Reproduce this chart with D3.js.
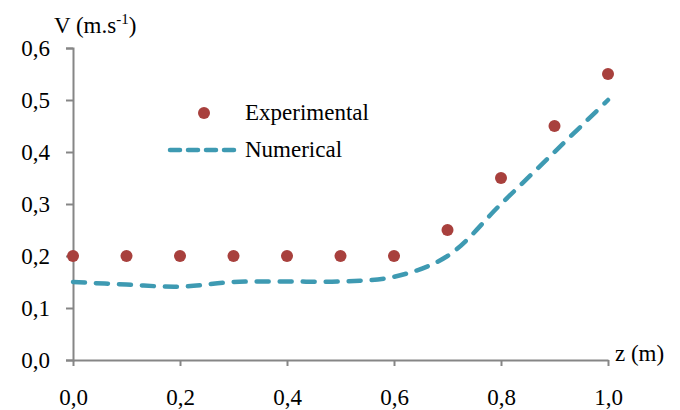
<!DOCTYPE html>
<html>
<head>
<meta charset="utf-8">
<script src="https://cdn.jsdelivr.net/npm/d3@7"></script>
<style>
  body { margin: 0; background: #fff; }
  svg text { font-family: "Liberation Serif", "Times New Roman", Times, "DejaVu Serif", serif !important; fill: #000; }
</style>
</head>
<body>
<div id="chart"></div>
<script>
// z positions and measured / computed velocity
const zValues = [0, 0.1, 0.2, 0.3, 0.4, 0.5, 0.6, 0.7, 0.8, 0.9, 1.0];
const experimental = [0.2, 0.2, 0.2, 0.2, 0.2, 0.2, 0.2, 0.25, 0.35, 0.45, 0.55];
const numerical = [0.15, 0.145, 0.141, 0.15, 0.151, 0.151, 0.16, 0.2, 0.3, 0.4, 0.5];
const xTicks = [0, 0.2, 0.4, 0.6, 0.8, 1.0];
const yTicks = [0, 0.1, 0.2, 0.3, 0.4, 0.5, 0.6];

const width = 680, height = 410;
const axisColor = "#868686";
const expColor = "#A8403D";
const numColor = "#3E9AB2";
const serif = '"Liberation Serif", "Times New Roman", Times, serif';

const x = d3.scaleLinear().domain([0, 1]).range([73, 608]);
const y = d3.scaleLinear().domain([0, 0.6]).range([360, 48]);
const fmt = d => d3.format(".1f")(d).replace(".", ",");

const svg = d3.select("#chart").append("svg")
    .attr("width", width)
    .attr("height", height)
    .attr("font-family", serif);

// y axis
const yAxis = svg.append("g")
    .attr("transform", "translate(" + x(0) + ",0)")
    .call(d3.axisLeft(y).tickValues(yTicks).tickSize(7).tickSizeOuter(7).tickPadding(16).tickFormat(fmt));

// x axis
const xAxis = svg.append("g")
    .attr("transform", "translate(0," + y(0) + ")")
    .call(d3.axisBottom(x).tickValues(xTicks).tickSize(6).tickSizeOuter(0).tickFormat(fmt));

[xAxis, yAxis].forEach(g => {
    g.attr("font-family", serif);
    g.select(".domain").attr("stroke", axisColor).attr("stroke-width", 2);
    g.selectAll(".tick line").attr("stroke", axisColor).attr("stroke-width", 2);
    g.selectAll(".tick text").style("font-size", "23px").attr("fill", "#000");
});
yAxis.selectAll(".tick text").attr("dy", "0.33em");
xAxis.selectAll(".tick text").attr("y", 45).attr("dy", 0);

// axis titles
const yt = svg.append("text").attr("x", 54).attr("y", 33).style("font-size", "23px");
yt.append("tspan").text("V (m.s");
yt.append("tspan").attr("dy", -9).style("font-size", "15px").text("-1");
yt.append("tspan").attr("dy", 9).text(")");

svg.append("text").attr("x", 615).attr("y", 361)
    .style("font-size", "23px").text("z (m)");

// numerical curve
const line = d3.line()
    .x((d, i) => x(zValues[i]))
    .y(d => y(d))
    .curve(d3.curveCatmullRom.alpha(0.5));

svg.append("path")
    .datum(numerical)
    .attr("d", line)
    .attr("fill", "none")
    .attr("stroke", numColor)
    .attr("stroke-width", 4.5)
    .attr("stroke-linecap", "round")
    .attr("stroke-dasharray", "12,11");

// experimental points
svg.selectAll("circle.exp")
    .data(experimental)
    .enter()
    .append("circle")
    .attr("class", "exp")
    .attr("cx", (d, i) => x(zValues[i]))
    .attr("cy", d => y(d))
    .attr("r", 6)
    .attr("fill", expColor);

// legend
svg.append("circle").attr("cx", 204).attr("cy", 113).attr("r", 6).attr("fill", expColor);
svg.append("text").attr("x", 245).attr("y", 120).style("font-size", "23px").text("Experimental");
svg.append("line")
    .attr("x1", 170).attr("x2", 234).attr("y1", 150).attr("y2", 150)
    .attr("stroke", numColor).attr("stroke-width", 4.5)
    .attr("stroke-linecap", "round")
    .attr("stroke-dasharray", "10,8");
svg.append("text").attr("x", 245).attr("y", 157).style("font-size", "23px").text("Numerical");
</script>
</body>
</html>
